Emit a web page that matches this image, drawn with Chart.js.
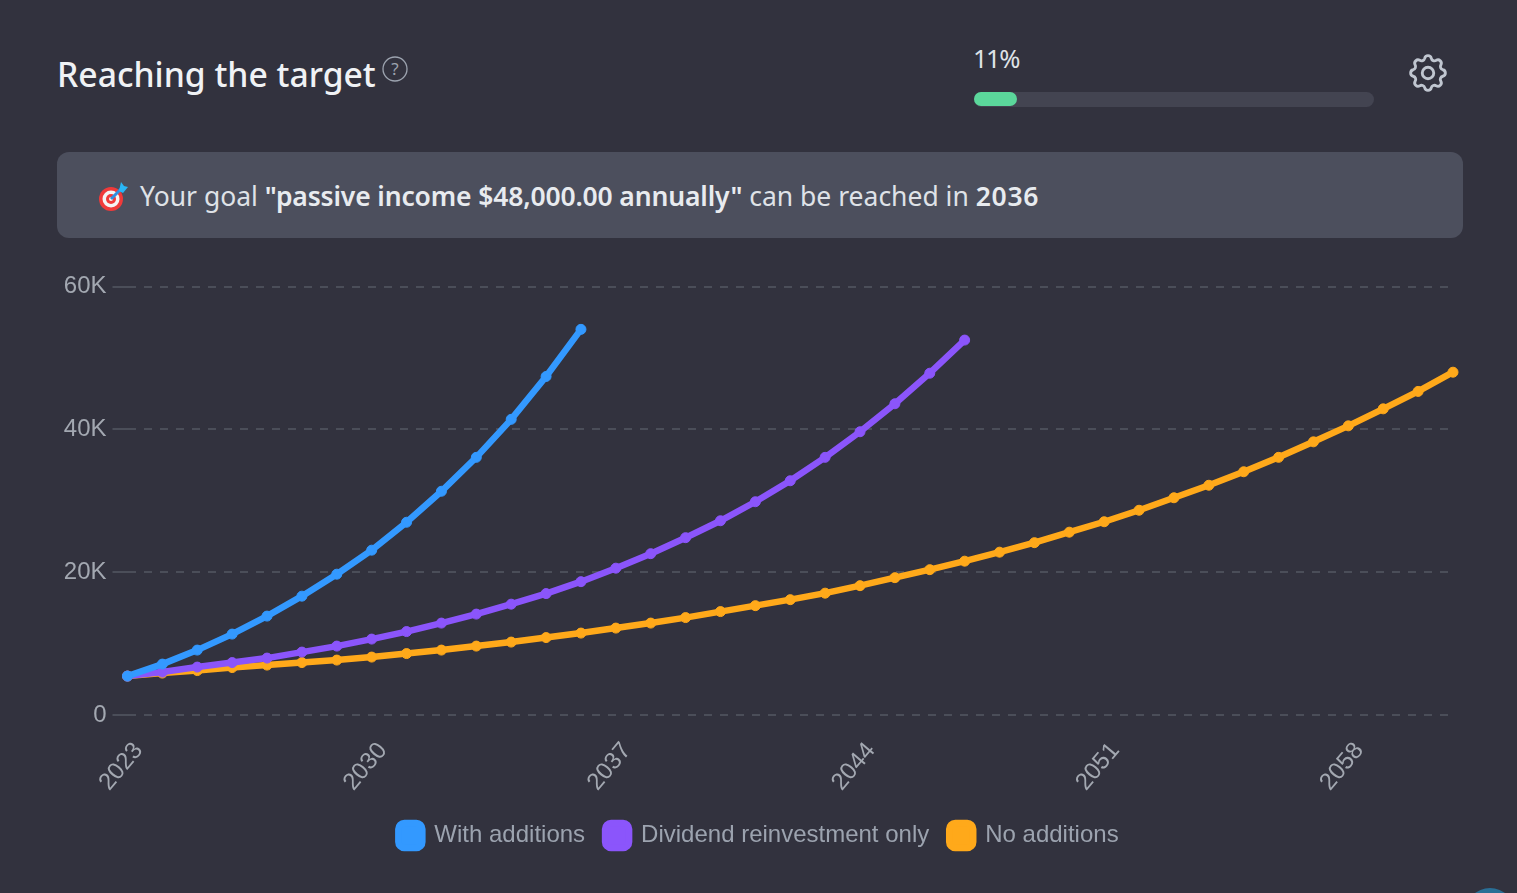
<!DOCTYPE html>
<html>
<head>
<meta charset="utf-8">
<title>Reaching the target</title>
<script src="https://cdn.jsdelivr.net/npm/chart.js@4"></script>
<style>
  html, body { margin: 0; padding: 0; width: 1517px; height: 893px; overflow: hidden; background: #32323e; }
  body { position: relative; font-family: "Noto Sans", sans-serif; color: #e5e7eb; }
  .title { position: absolute; left: 57px; top: 51px; font-size: 33.7px; font-weight: 500; line-height: 46px; color: #f0f2f5; white-space: nowrap; }
  .help { position: absolute; left: 382px; top: 56px; }
  .pct { position: absolute; left: 973px; top: 40px; font-size: 25.5px; letter-spacing: -1.5px; line-height: 36px; color: #dfe2e7; }
  .track { position: absolute; left: 974px; top: 92px; width: 400px; height: 15px; border-radius: 8px; background: #434451; }
  .fill { width: 43px; height: 14px; border-radius: 8px; background: #5bd79b; }
  .gear { position: absolute; left: 1405px; top: 50px; }
  .banner { position: absolute; left: 57px; top: 152px; width: 1406px; height: 86px; border-radius: 12px; background: #4c4f5d; }
  .banner .goal { position: absolute; left: 83px; top: 26px; font-size: 26.5px; line-height: 36px; color: #dfe2e7; white-space: nowrap; }
  .banner b { font-weight: 600; color: #e8ebef; }
  .banner b.q { letter-spacing: -0.15px; }
  .banner b.y { letter-spacing: 0.7px; }
  .banner svg { position: absolute; left: 41px; top: 30px; }
  .corner { position: absolute; left: 1465px; top: 888px; width: 50px; height: 50px; border-radius: 50%; background: #2a6f96; }
  canvas { position: absolute; left: 0; top: 262px; }
</style>
</head>
<body>
<div class="title">Reaching the target</div>
<svg class="help" width="26" height="26" viewBox="0 0 26 26">
  <circle cx="13" cy="13" r="12" fill="none" stroke="#9ca3af" stroke-width="1.3"/>
  <text x="13" y="19" text-anchor="middle" font-size="17" font-family="Noto Sans" fill="#9ca3af">?</text>
</svg>
<div class="pct">11%</div>
<div class="track"><div class="fill"></div></div>
<svg class="gear" width="46" height="46" viewBox="0 0 24 24" fill="none" stroke="#c0c6d0" stroke-width="1.5" stroke-linecap="round" stroke-linejoin="round">
  <path d="M10.3 4.3c.4-1.8 3-1.8 3.4 0a1.7 1.7 0 0 0 2.6 1.1c1.5-.9 3.3.8 2.4 2.4a1.7 1.7 0 0 0 1 2.5c1.8.4 1.8 3 0 3.4a1.7 1.7 0 0 0-1 2.6c.9 1.5-.9 3.3-2.4 2.4a1.7 1.7 0 0 0-2.6 1c-.4 1.8-3 1.8-3.4 0a1.7 1.7 0 0 0-2.6-1c-1.5.9-3.3-.9-2.4-2.4a1.7 1.7 0 0 0-1-2.6c-1.8-.4-1.8-3 0-3.4a1.7 1.7 0 0 0 1-2.5c-.9-1.6.9-3.3 2.4-2.4 1 .6 2.3.1 2.6-1.1z"/>
  <circle cx="12" cy="12" r="3"/>
</svg>
<div class="banner">
  <svg width="30" height="30" viewBox="0 0 30 30">
    <circle cx="13" cy="17" r="12" fill="#f03a3a"/>
    <circle cx="13" cy="17" r="8.5" fill="#f4f4f4"/>
    <circle cx="13" cy="17" r="5" fill="#f03a3a"/>
    <circle cx="13" cy="17" r="2" fill="#f4f4f4"/>
    <path d="M13 17 L24 6" stroke="#2d8fe3" stroke-width="3"/>
    <path d="M21 9 L23 0 L26 4 L30 5 L25 11 Z" fill="#29b6f6"/>
  </svg>
  <div class="goal">Your goal <b class="q">"passive income $48,000.00 annually"</b> can be reached in <b class="y">2036</b></div>
</div>
<div class="corner"></div>
<canvas id="chart" width="1517" height="620"></canvas>
<script>
// Values
const years = ['2023','2024','2025','2026','2027','2028','2029','2030','2031','2032','2033','2034','2035','2036','2037','2038','2039','2040','2041','2042','2043','2044','2045','2046','2047','2048','2049','2050','2051','2052','2053','2054','2055','2056','2057','2058','2059','2060','2061'];
const withAdditions = [5450, 7130, 9090, 11330, 13850, 16640, 19720, 23080, 26990, 31330, 36080, 41400, 47400, 54000];
const dividendOnly = [5450, 6010, 6710, 7340, 7970, 8810, 9650, 10630, 11680, 12870, 14130, 15520, 17000, 18670, 20560, 22590, 24830, 27200, 29860, 32800, 36080, 39660, 43580, 47860, 52500];
const noAdditions = [5450, 5870, 6220, 6640, 6990, 7340, 7690, 8110, 8600, 9090, 9650, 10210, 10840, 11470, 12170, 12870, 13640, 14480, 15310, 16150, 17060, 18110, 19230, 20350, 21540, 22800, 24130, 25600, 27060, 28670, 30420, 32170, 34060, 36080, 38250, 40490, 42870, 45310, 48000];
const yTicks = [0, 20000, 40000, 60000];

const line = (label, data, color) => ({
  label, data,
  borderColor: color,
  backgroundColor: color,
  borderWidth: 6.5,
  pointRadius: 5,
  pointBorderWidth: 1,
  pointHoverRadius: 6,
  tension: 0,
  clip: false,
});

new Chart(document.getElementById('chart'), {
  type: 'line',
  data: {
    labels: years,
    datasets: [
      line('With additions', withAdditions, '#3399ff'),
      line('Dividend reinvestment only', dividendOnly, '#8b55fb'),
      line('No additions', noAdditions, '#ffa91a'),
    ]
  },
  options: {
    responsive: false,
    animation: false,
    // equal side padding keeps the legend centred on the page
    layout: { padding: { left: 64, right: 64, top: 24.5, bottom: 24 } },
    plugins: {
      tooltip: { enabled: false },
      legend: {
        position: 'bottom',
        labels: {
          color: '#9ca3af',
          font: { size: 24, family: '"Liberation Sans", Arial' },
          boxWidth: 24,
          boxHeight: 25,
          padding: 20,
          useBorderRadius: true,
          borderRadius: 6,
        }
      }
    },
    scales: {
      x: {
        grid: { display: false },
        border: { display: false },
        afterFit(s) { s.height = 88; },
        ticks: {
          autoSkip: false,
          minRotation: 50,
          maxRotation: 50,
          color: '#a3a8b1',
          font: { size: 24, family: '"Liberation Sans", Arial' },
          padding: 14,
          labelOffset: 11,
          callback(v, i) { return i % 7 === 0 ? years[i] : ''; },
        }
      },
      y: {
        min: 0,
        max: 60000,
        afterFit(s) { s.width = 63.5; },
        afterBuildTicks(s) { s.ticks = yTicks.map(value => ({ value })); },
        border: { display: false, dash: [8, 8] },
        grid: { color: '#4b4e59', lineWidth: 2, tickLength: 15, tickColor: '#4b4e59' },
        ticks: {
          color: '#a3a8b1',
          font: { size: 24, family: '"Liberation Sans", Arial' },
          padding: 6,
          callback(v) { return v === 0 ? '0' : (v / 1000) + 'K'; },
        }
      }
    }
  }
});
</script>
</body>
</html>
